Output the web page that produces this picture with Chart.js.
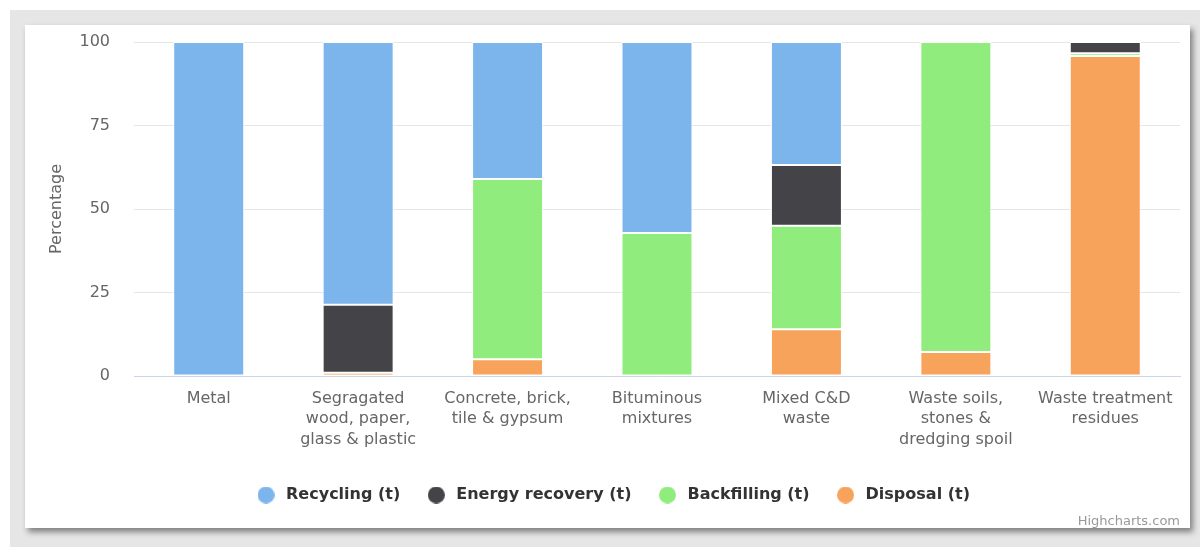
<!DOCTYPE html>
<html>
<head>
<meta charset="utf-8">
<script src="https://cdn.jsdelivr.net/npm/chart.js@4"></script>
<style>
  html, body { margin: 0; padding: 0; background: #fff; }
  body { width: 1200px; height: 547px; overflow: hidden; position: relative; font-family: "DejaVu Sans", sans-serif; }
  .frame { position: absolute; left: 10px; top: 10px; width: 1200px; height: 547px; background: #e6e6e6; }
  .card { position: absolute; left: 25px; top: 25px; width: 1165px; height: 503px; background: #fff;
          box-shadow: 3px 4px 6px rgba(0,0,0,0.45); }
  .card canvas { display: block; }
  .credit { position: absolute; right: 10px; bottom: 0px; font-size: 13px; color: #999; }
</style>
</head>
<body>
<div class="frame"></div>
<div class="card">
  <canvas id="wasteChart" width="1165" height="503"></canvas>
  <div class="credit">Highcharts.com</div>
</div>
<script>
// 类别与数据（百分比）
const categories = [
    ['Metal'],
    ['Segragated', 'wood, paper,', 'glass & plastic'],
    ['Concrete, brick,', 'tile & gypsum'],
    ['Bituminous', 'mixtures'],
    ['Mixed C&D', 'waste'],
    ['Waste soils,', 'stones &', 'dredging spoil'],
    ['Waste treatment', 'residues']
];
const recycling      = [100, 78.7, 41, 57.2, 36.8, 0, 0];
const energyRecovery = [0, 20.3, 0, 0, 18.2, 0, 3.4];
const backfilling    = [0, 0, 54, 42.8, 31, 92.8, 0.8];
const disposal       = [0, 1, 5, 0, 14, 7.2, 95.8];
const yTicks = [0, 25, 50, 75, 100];

const grey = '#666666';
const fontFamily = 'DejaVu Sans';

// 图例圆点（画在小画布上）
function makeDot(color) {
    const c = document.createElement('canvas');
    c.width = 17;
    c.height = 17;
    const g = c.getContext('2d');
    g.fillStyle = color;
    g.beginPath();
    g.arc(8.5, 8.5, 8.5, 0, Math.PI * 2);
    g.fill();
    return c;
}

// 堆叠顺序：底部先画
const chartData = {
    labels: categories,
    datasets: [
        { label: 'Disposal (t)', data: disposal, backgroundColor: '#f7a35c' },
        { label: 'Backfilling (t)', data: backfilling, backgroundColor: '#90ed7d' },
        { label: 'Energy recovery (t)', data: energyRecovery, backgroundColor: '#434348' },
        { label: 'Recycling (t)', data: recycling, backgroundColor: '#7cb5ec' }
    ].map(ds => Object.assign(ds, {
        borderColor: '#ffffff',
        borderWidth: 1,
        borderSkipped: false,
        categoryPercentage: 1,
        barPercentage: 0.475
    }))
};

new Chart(document.getElementById('wasteChart').getContext('2d'), {
    type: 'bar',
    data: chartData,
    options: {
        responsive: false,
        animation: false,
        layout: { padding: { top: 17, right: 10, bottom: 15, left: 19 } },
        scales: {
            x: {
                stacked: true,
                grid: { display: false, drawTicks: false },
                border: { display: true, color: '#ccd6eb', width: 1 },
                ticks: {
                    color: grey,
                    padding: 12,
                    maxRotation: 0,
                    autoSkip: false,
                    font: { family: fontFamily, size: 16, lineHeight: 1.3 }
                },
                afterFit: function(scale) { scale.height = 87; }
            },
            y: {
                stacked: true,
                min: 0,
                max: 100,
                afterBuildTicks: function(scale) {
                    scale.ticks = yTicks.map(v => ({ value: v }));
                },
                grid: { color: '#e6e6e6', drawTicks: false },
                border: { display: false },
                ticks: {
                    color: grey,
                    padding: 24,
                    font: { family: fontFamily, size: 16 }
                },
                title: {
                    display: true,
                    text: 'Percentage',
                    color: grey,
                    padding: { top: 3, bottom: 0 },
                    font: { family: fontFamily, size: 16 }
                },
                afterFit: function(scale) {
                    scale.width = 90;
                    scale.paddingTop = 0;
                    scale.paddingBottom = 0;
                }
            }
        },
        plugins: {
            legend: {
                position: 'bottom',
                reverse: true,
                labels: {
                    usePointStyle: true,
                    pointStyleWidth: 24,
                    boxHeight: 12,
                    padding: 24,
                    color: '#333333',
                    font: { family: fontFamily, size: 16, weight: 'bold' },
                    generateLabels: function(chart) {
                        const items = Chart.defaults.plugins.legend.labels.generateLabels(chart);
                        items.forEach(item => {
                            item.pointStyle = makeDot(chart.data.datasets[item.datasetIndex].backgroundColor);
                        });
                        return items;
                    }
                }
            },
            tooltip: { enabled: false }
        }
    }
});
</script>
</body>
</html>
